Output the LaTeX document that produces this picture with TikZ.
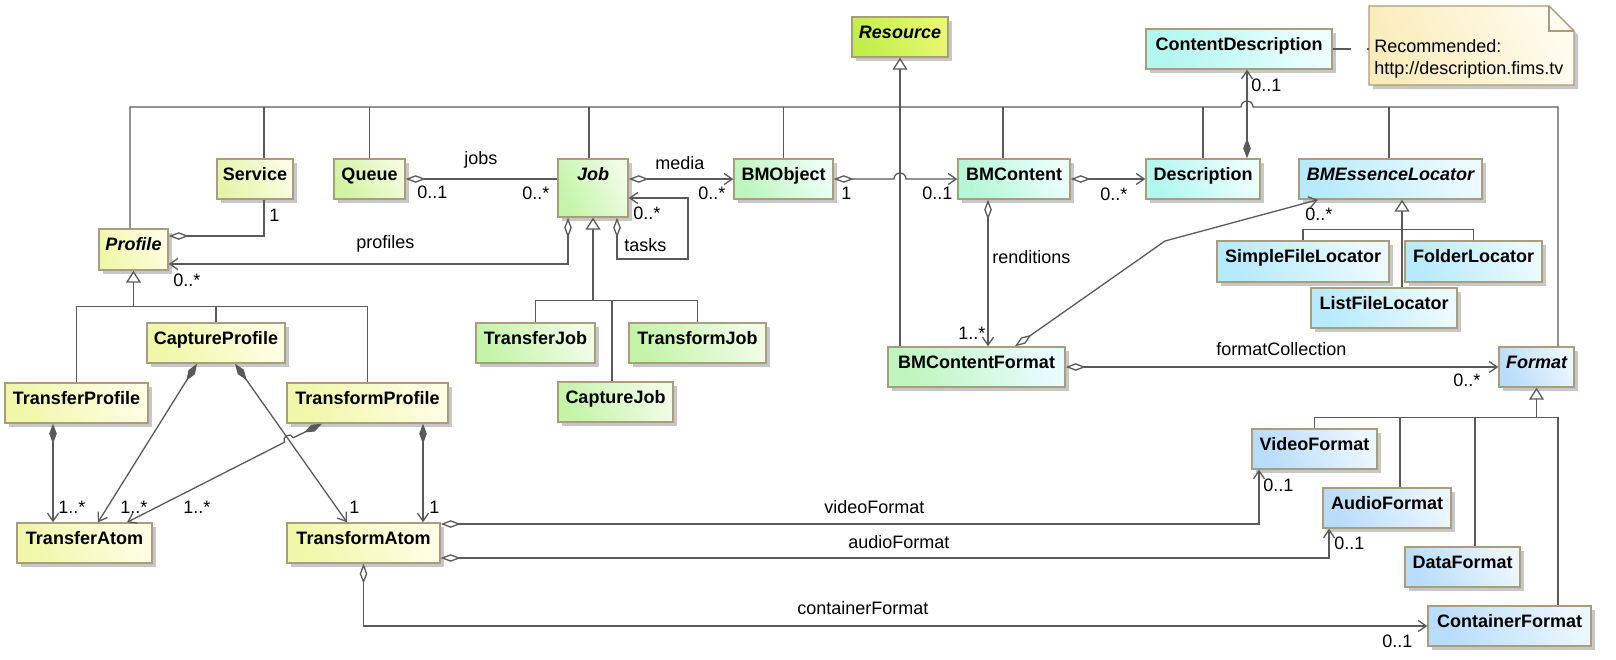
\documentclass[tikz,border=0pt]{standalone}
\usepackage{fontspec}
\setmainfont{Liberation Sans}
\usetikzlibrary{arrows.meta,shadows}

\definecolor{edge}{RGB}{90,90,90}
\definecolor{frame}{RGB}{168,158,126}
\definecolor{yelA}{RGB}{240,247,168}  \definecolor{yelB}{RGB}{254,254,228}
\definecolor{srvA}{RGB}{228,245,170}  \definecolor{srvB}{RGB}{250,253,228}
\definecolor{quA}{RGB}{208,243,160}   \definecolor{quB}{RGB}{244,251,222}
\definecolor{grnA}{RGB}{196,244,168}  \definecolor{grnB}{RGB}{240,252,230}
\definecolor{objA}{RGB}{190,245,190}  \definecolor{objB}{RGB}{236,255,245}
\definecolor{mntA}{RGB}{180,246,214}  \definecolor{mntB}{RGB}{234,255,252}
\definecolor{cfA}{RGB}{190,245,190}   \definecolor{cfB}{RGB}{232,252,255}
\definecolor{cyA}{RGB}{178,246,240}   \definecolor{cyB}{RGB}{236,255,255}
\definecolor{skyA}{RGB}{182,234,252}  \definecolor{skyB}{RGB}{236,250,255}
\definecolor{bluA}{RGB}{184,220,250}  \definecolor{bluB}{RGB}{236,246,255}
\definecolor{limA}{RGB}{192,238,76}   \definecolor{limB}{RGB}{232,248,112}
\definecolor{notA}{RGB}{250,236,186}  \definecolor{notB}{RGB}{255,251,238}

\begin{document}
\begin{tikzpicture}[x=0.5pt,y=-0.5pt,
  cls/.style={draw=frame, line width=0.7pt, inner sep=0pt, text height=10.5pt, text depth=9.5pt,
    font=\fontsize{9}{11}\selectfont\bfseries,
    drop shadow={shadow xshift=2pt, shadow yshift=-2pt, fill=black!40, opacity=0.55}},
  abs/.style={font=\fontsize{9}{11}\selectfont\bfseries\itshape},
  fillc/.style 2 args={left color=#1, right color=#2, shading angle=115},
  yel/.style={fillc={yelA}{yelB}}, srv/.style={fillc={srvA}{srvB}},
  qu/.style={fillc={quA}{quB}},    grn/.style={fillc={grnA}{grnB}},
  obj/.style={fillc={objA}{objB}}, mnt/.style={fillc={mntA}{mntB}},
  cf/.style={fillc={cfA}{cfB}},    cy/.style={fillc={cyA}{cyB}},
  sky/.style={fillc={skyA}{skyB}}, blu/.style={fillc={bluA}{bluB}},
  lim/.style={fillc={limA}{limB}},
  line/.style={draw=edge, line width=0.65pt},
  gen/.style={line, -{Triangle[open, fill=white, length=6pt, width=7.5pt]}},
  agg/.style={line, {Diamond[fill=white, length=10pt, width=3.8pt]}-{Straight Barb[length=4pt, width=5.5pt]}},
  aggl/.style={line, {Diamond[fill=white, length=10pt, width=3.8pt]}-},
  comp/.style={line, {Diamond[length=10pt, width=3.8pt]}-{Straight Barb[length=4pt, width=5.5pt]}},
  lbl/.style={font=\fontsize{9}{11}\selectfont, inner sep=0pt, anchor=base west}]

\fill[white] (0,0) rectangle (1616,659);
\useasboundingbox (0,0) rectangle (1616,659);

\node[cls,lim,abs,minimum width=48pt] (Resource) at (900,37) {Resource};
\node[cls,cy,minimum width=93pt] (ContentDescription) at (1239,49) {ContentDescription};

\node[cls,srv,minimum width=38pt] (Service) at (255,179) {Service};
\node[cls,qu,minimum width=35.5pt] (Queue) at (369.5,179) {Queue};
\node[cls,grn,abs,minimum width=35pt,text depth=18.5pt] (Job) at (593,188) {Job};
\node[cls,obj,minimum width=49.5pt] (BMObject) at (783.5,179) {BMObject};
\node[cls,mnt,minimum width=56pt] (BMContent) at (1014,179) {BMContent};
\node[cls,cy,minimum width=57pt] (Description) at (1203,179) {Description};
\node[cls,sky,abs,minimum width=91.5pt] (BMEssenceLocator) at (1390.5,179) {BMEssenceLocator};

\node[cls,yel,abs,minimum width=34.5pt,text depth=10pt] (Profile) at (133.5,249.5) {Profile};
\node[cls,sky,minimum width=86pt,text depth=10pt] (SimpleFileLocator) at (1303,261.5) {SimpleFileLocator};
\node[cls,sky,minimum width=68.5pt,text depth=10pt] (FolderLocator) at (1473.5,261.5) {FolderLocator};
\node[cls,sky,minimum width=73pt] (ListFileLocator) at (1384,308) {ListFileLocator};

\node[cls,yel,minimum width=69pt] (CaptureProfile) at (216,343) {CaptureProfile};
\node[cls,yel,minimum width=71.5pt] (TransferProfile) at (76.5,403) {TransferProfile};
\node[cls,yel,minimum width=80.5pt] (TransformProfile) at (367.5,403) {TransformProfile};
\node[cls,yel,minimum width=67.5pt] (TransferAtom) at (84.5,543) {TransferAtom};
\node[cls,yel,minimum width=76.5pt] (TransformAtom) at (363.5,543) {TransformAtom};

\node[cls,grn,minimum width=59.5pt] (TransferJob) at (535.5,343) {TransferJob};
\node[cls,grn,minimum width=68.5pt] (TransformJob) at (697.5,343) {TransformJob};
\node[cls,grn,minimum width=57.5pt] (CaptureJob) at (615.5,402) {CaptureJob};

\node[cls,cf,minimum width=88.5pt] (BMContentFormat) at (976.5,367) {BMContentFormat};
\node[cls,blu,abs,minimum width=37.5pt] (Format) at (1536.5,367) {Format};
\node[cls,blu,minimum width=62.5pt] (VideoFormat) at (1314.5,449) {VideoFormat};
\node[cls,blu,minimum width=64pt] (AudioFormat) at (1387,508) {AudioFormat};
\node[cls,blu,minimum width=57.5pt] (DataFormat) at (1462.5,567) {DataFormat};
\node[cls,blu,minimum width=81.5pt] (ContainerFormat) at (1509.5,626) {ContainerFormat};

\shade[left color=notA, right color=notB, shading angle=115, draw=frame, line width=0.7pt,
  drop shadow={shadow xshift=2pt, shadow yshift=-2pt, fill=black!40, opacity=0.55}]
  (1369,6) -- (1549,6) -- (1574,31) -- (1574,85) -- (1369,85) -- cycle;
\draw[draw=frame, line width=0.7pt] (1549,6) -- (1549,31) -- (1574,31);
\node[lbl, anchor=north west, inner xsep=2.5pt, align=left] (note) at (1369,39)
  {Recommended:\\http://description.fims.tv};

\coordinate (rbar) at (899,107);
\coordinate (pbar) at ([yshift=-18pt]Profile.south);
\coordinate (jbar) at ([yshift=-41.5pt]Job.south);
\coordinate (lbar) at ([xshift=5.75pt,yshift=-15pt]BMEssenceLocator.south);
\coordinate (fbar) at ([yshift=-15pt]Format.south);
\coordinate (tloop) at (688,259);
\coordinate (bend) at (1165,241);

\draw[line] ([xshift=-1.75pt]Profile.north) |- (1241,107) arc[start angle=180,end angle=0,radius=3pt]
  -- (1558,107) -- ([xshift=10.75pt]Format.north);
\foreach \n/\s in {Service/4.5pt, Queue/0pt, Job/-2pt, BMObject/0pt, BMContent/-5.5pt,
  Description/0pt, BMEssenceLocator/-0.75pt}
  \draw[line] ([xshift=\s]\n.north) -- ([xshift=\s]\n.north |- rbar);
\draw[gen] (Resource.south |- BMContentFormat.north) -- (Resource.south);

\draw[gen] (pbar) -- (Profile.south);
\draw[line] (TransferProfile.north) |- (pbar) -| (TransformProfile.north);
\draw[line] (CaptureProfile.north) -- (CaptureProfile.north |- pbar);

\draw[gen] (jbar) -- (Job.south);
\draw[line] (TransferJob.north) |- (jbar) -| (TransformJob.north);
\draw[line] ([xshift=-1.75pt]CaptureJob.north) -- ([xshift=-1.75pt]CaptureJob.north |- jbar);

\draw[gen] (lbar) -- (lbar |- BMEssenceLocator.south);
\draw[line] (SimpleFileLocator.north) |- (lbar) -| (FolderLocator.north);
\draw[line] (ListFileLocator.north -| lbar) -- (lbar);

\draw[gen] (fbar) -- (Format.south);
\draw[line] (VideoFormat.north) |- (fbar) -| ([xshift=24.25pt]ContainerFormat.north);
\draw[line] ([xshift=6.5pt]AudioFormat.north) -- ([xshift=6.5pt]AudioFormat.north |- fbar);
\draw[line] ([xshift=6.25pt]DataFormat.north) -- ([xshift=6.25pt]DataFormat.north |- fbar);

\draw[aggl] ([yshift=6.75pt]Profile.east) -| ([xshift=4.5pt]Service.south);
\draw[agg] ([xshift=-12.5pt]Job.south) |- ([yshift=-7.25pt]Profile.east);
\draw[aggl] (Queue.east) -- (Queue.east -| Job.west);
\draw[agg] (Job.east |- BMObject.west) -- (BMObject.west);
\draw[agg] ([xshift=12pt]Job.south) |- (tloop) |- ([yshift=-5pt]Job.east);
\draw[agg] (BMObject.east) -- ([xshift=-3pt]Resource.south |- BMObject.east)
  arc[start angle=180,end angle=0,radius=3pt] -- (BMContent.west);
\draw[agg] (BMContent.east) -- (Description.west);
\draw[comp] ([xshift=22pt]Description.north) -- ([xshift=22pt]Description.north |- ContentDescription.south);
\draw[line, dash pattern=on 9pt off 8pt] (ContentDescription.east) -- (ContentDescription.east -| note.west);
\draw[agg] ([xshift=-13pt]BMContent.south) -- ([xshift=-13pt]BMContent.south |- BMContentFormat.north);
\draw[agg] ([xshift=19.25pt]BMContentFormat.north) -- (bend) -- ([xshift=-36.25pt]BMEssenceLocator.south);
\draw[agg] (BMContentFormat.east) -- (Format.west);

\draw[comp] ([xshift=-11.75pt]TransferProfile.south) -- ([xshift=-11.75pt]TransferProfile.south |- TransferAtom.north);
\draw[comp] ([xshift=-9.5pt]CaptureProfile.south) -- ([xshift=6.75pt]TransferAtom.north);
\draw[comp] ([xshift=9.5pt]CaptureProfile.south) -- ([xshift=-8.25pt]TransformAtom.north);
\draw[comp] ([xshift=-22.75pt]TransformProfile.south) -- (293.35,437.7)
  arc[start angle=27.1,end angle=207.1,radius=2.5pt] -- ([xshift=21.25pt]TransferAtom.north);
\draw[comp] ([xshift=27.75pt]TransformProfile.south) -- ([xshift=27.75pt]TransformProfile.south |- TransformAtom.north);

\draw[agg] ([yshift=9.5pt]TransformAtom.east) -| ([xshift=-27.75pt]VideoFormat.south);
\draw[agg] ([yshift=-7.5pt]TransformAtom.east) -| ([xshift=-29pt]AudioFormat.south);
\draw[agg] (TransformAtom.south) |- (ContainerFormat.west);

\node[lbl] (mServ) at (269,221) {1};
\node[lbl] (lJobs) at (464,164) {jobs};
\node[lbl] (mQueue) at (417,198) {0..1};
\node[lbl] (mJobs) at (522,199) {0..*};
\node[lbl] (lProf) at (356,248) {profiles};
\node[lbl] (mProf) at (173,286) {0..*};
\node[lbl] (lMedia) at (655,169) {media};
\node[lbl] (mMedia) at (698,199) {0..*};
\node[lbl] (mTask) at (633,219) {0..*};
\node[lbl] (lTask) at (624,251) {tasks};
\node[lbl] (mObj) at (841,199) {1};
\node[lbl] (mCont) at (922,199) {0..1};
\node[lbl] (mDesc) at (1100,200) {0..*};
\node[lbl] (mCDesc) at (1251,91) {0..1};
\node[lbl] (lRend) at (992,263) {renditions};
\node[lbl] (mRend) at (958,339) {1..*};
\node[lbl] (mLoc) at (1305,220) {0..*};
\node[lbl] (lColl) at (1216,355) {formatCollection};
\node[lbl] (mColl) at (1453,386) {0..*};
\node[lbl] (lVideo) at (824,513) {videoFormat};
\node[lbl] (mVideo) at (1263,491) {0..1};
\node[lbl] (lAudio) at (848,548) {audioFormat};
\node[lbl] (mAudio) at (1334,549) {0..1};
\node[lbl] (lContF) at (797,614) {containerFormat};
\node[lbl] (mContF) at (1382,647) {0..1};
\node[lbl] (mTrA1) at (58,513) {1..*};
\node[lbl] (mTrA2) at (120,513) {1..*};
\node[lbl] (mTrA3) at (183,513) {1..*};
\node[lbl] (mTfA1) at (349,513) {1};
\node[lbl] (mTfA2) at (429,513) {1};
\end{tikzpicture}
\end{document}
